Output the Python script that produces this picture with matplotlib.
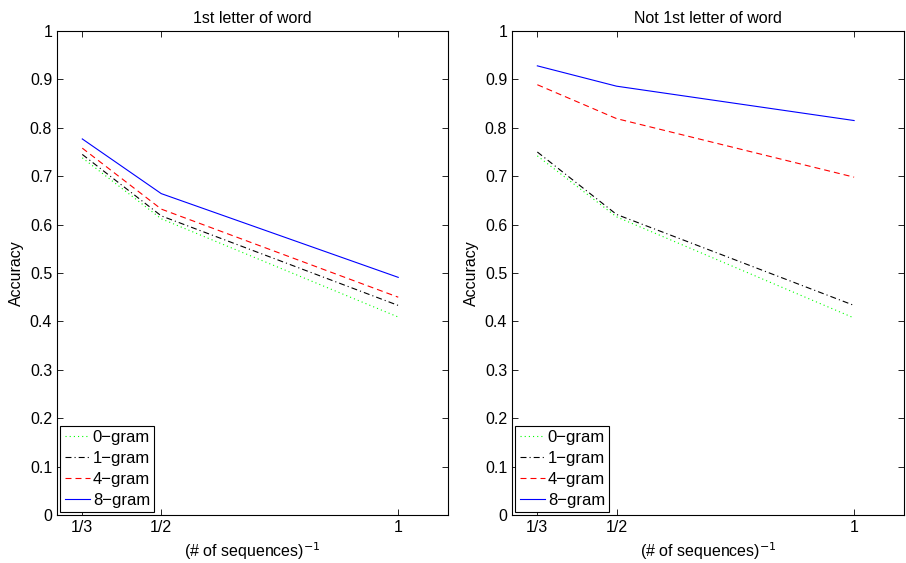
import matplotlib
matplotlib.use("Agg")
import matplotlib.pyplot as plt

plt.rcParams['font.family'] = ['Liberation Sans', 'DejaVu Sans']
plt.rcParams['lines.scale_dashes'] = False

x_vals = [1/3, 1/2, 1]
x_ticklabels = ['1/3', '1/2', '1']
series_names = ['0\u2212gram', '1\u2212gram', '4\u2212gram', '8\u2212gram']

left_title = '1st letter of word'
left_0gram = [0.738, 0.612, 0.409]
left_1gram = [0.745, 0.618, 0.433]
left_4gram = [0.758, 0.632, 0.450]
left_8gram = [0.777, 0.664, 0.491]

right_title = 'Not 1st letter of word'
right_0gram = [0.742, 0.616, 0.407]
right_1gram = [0.750, 0.621, 0.433]
right_4gram = [0.889, 0.819, 0.698]
right_8gram = [0.928, 0.886, 0.815]

styles = [
    dict(color='#00ff00', linestyle=(0, (0.8, 2.2)), linewidth=0.8),
    dict(color='black', linestyle=(0, (4.3, 2.2, 0.8, 2.2)), linewidth=0.8),
    dict(color='red', linestyle=(0, (4.3, 2.9)), linewidth=0.8),
    dict(color='blue', linestyle='-', linewidth=0.8),
]

W, H = 906, 563
fig = plt.figure(figsize=(W/100, H/100), dpi=100)
ax1 = fig.add_axes([57/W, (H-515)/H, (448-57)/W, (515-31)/H])
ax2 = fig.add_axes([512/W, (H-515)/H, (904-512)/W, (515-31)/H])

fs = 11.5
for ax, title, data in [(ax1, left_title, [left_0gram, left_1gram, left_4gram, left_8gram]),
                        (ax2, right_title, [right_0gram, right_1gram, right_4gram, right_8gram])]:
    for name, ys, st in zip(series_names, data, styles):
        ax.plot(x_vals, ys, label=name, **st)
    ax.set_xlim(0.28, 1.105)
    ax.set_ylim(0, 1)
    ax.set_xticks(x_vals)
    ax.set_xticklabels(x_ticklabels)
    ax.set_yticks([i/10 for i in range(11)])
    ax.set_yticklabels(['0'] + ['%.1f' % (i/10) for i in range(1, 10)] + ['1'])
    ax.tick_params(direction='in', top=True, right=True, labelsize=fs, length=4, width=0.6)
    for s in ax.spines.values():
        s.set_linewidth(0.8)
    ax.set_title(title, fontsize=fs, pad=6)
    ax.set_ylabel('Accuracy', fontsize=fs)
    ax.set_xlabel('(# of sequences)$^{-1}$', fontsize=fs)
    leg = ax.legend(loc='lower left', fontsize=12, frameon=True, fancybox=False,
                    borderaxespad=0.2, handlelength=1.5, borderpad=0.25, labelspacing=0.35,
                    handletextpad=0.2)
    leg.get_frame().set_edgecolor('black')
    leg.get_frame().set_linewidth(0.8)
    leg.get_frame().set_alpha(1)

fig.savefig('out.png', dpi=100)
